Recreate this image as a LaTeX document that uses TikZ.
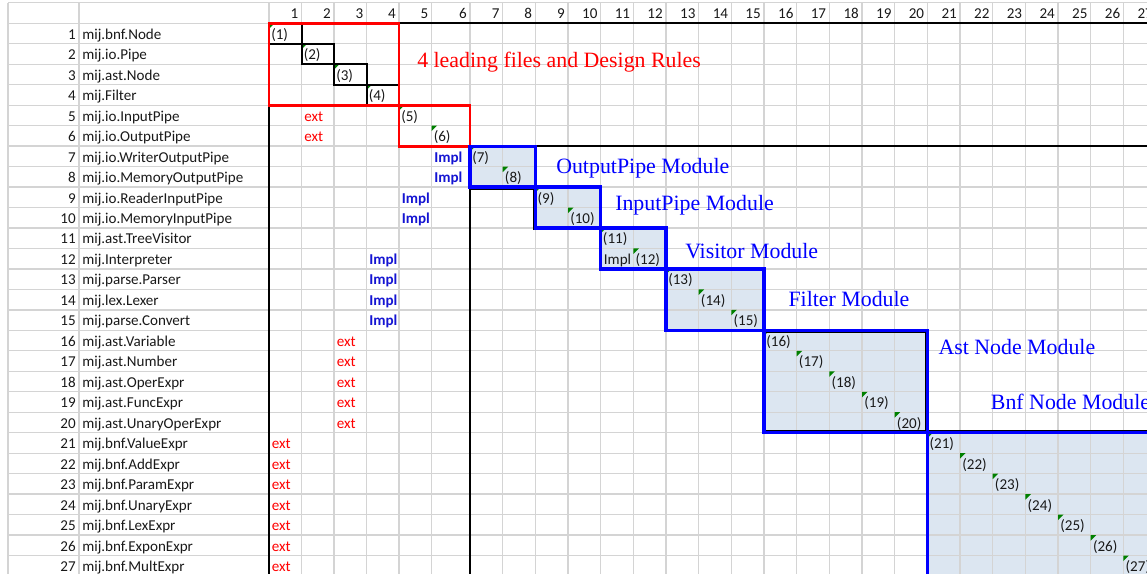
\documentclass[tikz,border=0pt]{standalone}
\usepackage{fontspec}
\setmainfont{Carlito}
\newfontfamily\modfont{Liberation Serif}
\definecolor{gridgray}{RGB}{212,212,212}
\definecolor{dsmblue}{RGB}{0,0,255}
\definecolor{implblue}{RGB}{20,20,210}
\definecolor{dsmred}{RGB}{255,0,0}
\definecolor{modfill}{RGB}{220,230,241}
\definecolor{markgreen}{RGB}{0,128,0}
\definecolor{celltext}{RGB}{25,25,25}
\usepackage{tikz}

\begin{document}
\begin{tikzpicture}[
      x=0.75pt,
      y=-0.75pt,
      declare function={
        cl(\k)=ifthenelse(\k<7,269+(\k-1)*32.5,470+(\k-7)*32.67);
        rt(\r)=23.3+(\r-1)*20.47;
      },
      cell/.style={anchor=base west, inner sep=0pt, text=celltext,
        font=\fontsize{11.3}{13}\selectfont},
      rownum/.style={cell, anchor=base east},
      ext/.style={cell, text=dsmred},
      impl/.style={cell, text=implblue, font=\fontsize{11.3}{13}\selectfont\bfseries},
      modlabel/.style={anchor=base west, inner sep=0pt, text=dsmblue,
        font=\modfont\fontsize{16.4}{18}\selectfont},
      gridline/.style={draw=gridgray, line width=1pt},
      blackline/.style={draw=black, line width=1.5pt},
      redline/.style={draw=dsmred, line width=2.2pt},
      blueline/.style={draw=dsmblue, line width=2.4pt}
    ]
    \useasboundingbox (0,0) rectangle (1147,574);
    \clip (0,0) rectangle (1147,574);

    \foreach \a/\b in {7/8,9/10,11/12,13/15,16/20,21/27}
      \fill[modfill] ({cl(\a)},{rt(\a)}) rectangle ({cl(\b+1)},{rt(\b+1)});

    \foreach \r in {0,...,28}
      \draw[gridline] (8,{rt(\r)}) -- (1147,{rt(\r)});
    \foreach \x in {8,79}
      \draw[gridline] (\x,{rt(0)}) -- (\x,574);
    \foreach \k in {1,...,28}
      \draw[gridline] ({cl(\k)},{rt(0)}) -- ({cl(\k)},574);

    \foreach \k in {1,...,27}
      \node[rownum] (h\k) at ({cl(\k+1)-3},{rt(1)-4.5}) {\k};

    \foreach \r/\name in {1/mij.bnf.Node, 2/mij.io.Pipe, 3/mij.ast.Node,
        4/mij.Filter, 5/mij.io.InputPipe, 6/mij.io.OutputPipe,
        7/mij.io.WriterOutputPipe, 8/mij.io.MemoryOutputPipe,
        9/mij.io.ReaderInputPipe, 10/mij.io.MemoryInputPipe,
        11/mij.ast.TreeVisitor, 12/mij.Interpreter, 13/mij.parse.Parser,
        14/mij.lex.Lexer, 15/mij.parse.Convert, 16/mij.ast.Variable,
        17/mij.ast.Number, 18/mij.ast.OperExpr, 19/mij.ast.FuncExpr,
        20/mij.ast.UnaryOperExpr, 21/mij.bnf.ValueExpr, 22/mij.bnf.AddExpr,
        23/mij.bnf.ParamExpr, 24/mij.bnf.UnaryExpr, 25/mij.bnf.LexExpr,
        26/mij.bnf.ExponExpr, 27/mij.bnf.MultExpr} {
      \node[rownum] (n\r) at (76,{rt(\r+1)-4.5}) {\r};
      \node[cell] (f\r) at (82,{rt(\r+1)-4.5}) {\name};
    }

    \foreach \k in {1,...,27} {
      \fill[markgreen] ({cl(\k)},{rt(\k)}) -- ++(5.5,0) -- ++(-5.5,5.5) -- cycle;
      \node[cell] (d\k) at ({cl(\k)+2},{rt(\k+1)-4.5}) {(\k)};
    }

    \foreach \r/\k in {5/2,6/2,16/3,17/3,18/3,19/3,20/3,
        21/1,22/1,23/1,24/1,25/1,26/1,27/1}
      \node[ext] (e\r) at ({cl(\k)+2.5},{rt(\r+1)-4.5}) {ext};
    \foreach \r/\k in {7/6,8/6,9/5,10/5,12/4,13/4,14/4,15/4}
      \node[impl] (i\r) at ({cl(\k)+2.5},{rt(\r+1)-4.5}) {Impl};
    \node[cell] (i12b) at ({cl(11)+3},{rt(13)-4.5}) {Impl};

    \foreach \k in {1,...,4}
      \draw[blackline] ({cl(\k)},{rt(\k)}) rectangle ({cl(\k+1)},{rt(\k+1)});
    \draw[blackline] ({cl(5)},{rt(1)}) -- (1147,{rt(1)});
    \draw[blackline] ({cl(1)},{rt(5)}) -- ({cl(1)},574);
    \draw[blackline] (1147,{rt(7)}) -- ({cl(7)},{rt(7)}) -- ({cl(7)},574);
    \draw[blackline] ({cl(7)},{rt(9)+1.5}) -- ({cl(9)},{rt(9)+1.5});
    \draw[blackline] ({cl(9)-1.5},{rt(9)}) -- ({cl(9)-1.5},{rt(11)+1.5})
      -- ({cl(13)},{rt(11)+1.5});
    \draw[blackline] ({cl(13)-1.5},{rt(16)}) -- ({cl(13)-1.5},{rt(13)+1.5})
      -- ({cl(16)},{rt(13)+1.5});
    \draw[blackline] ({cl(16)},{rt(16)+1.5}) -- ({cl(21)-1.5},{rt(16)+1.5})
      -- ({cl(21)-1.5},{rt(21)-1.5});
    \draw[blackline] ({cl(16)},{rt(21)-1.5}) -- (1147,{rt(21)-1.5});

    \draw[redline] ({cl(1)},{rt(1)}) rectangle ({cl(5)},{rt(5)});
    \draw[redline] ({cl(5)},{rt(5)}) rectangle ({cl(7)},{rt(7)});
    \foreach \a/\b in {7/8,9/10,11/12,13/15,16/20,21/27}
      \draw[blueline] ({cl(\a)},{rt(\a)}) rectangle ({cl(\b+1)},{rt(\b+1)});

    \node[modlabel, text=dsmred] (lead) at (417,68) {4 leading files and Design Rules};
    \node[modlabel] (outmod) at (556,174) {OutputPipe Module};
    \node[modlabel] (inmod) at (615,210.7) {InputPipe Module};
    \node[modlabel] (vismod) at (685,258.3) {Visitor Module};
    \node[modlabel] (filtmod) at (788.3,306.7) {Filter Module};
    \node[modlabel] (astmod) at (938.3,354.3) {Ast Node Module};
    \node[modlabel] (bnfmod) at (990.7,409.3) {Bnf Node Module};
  \end{tikzpicture}
\end{document}
